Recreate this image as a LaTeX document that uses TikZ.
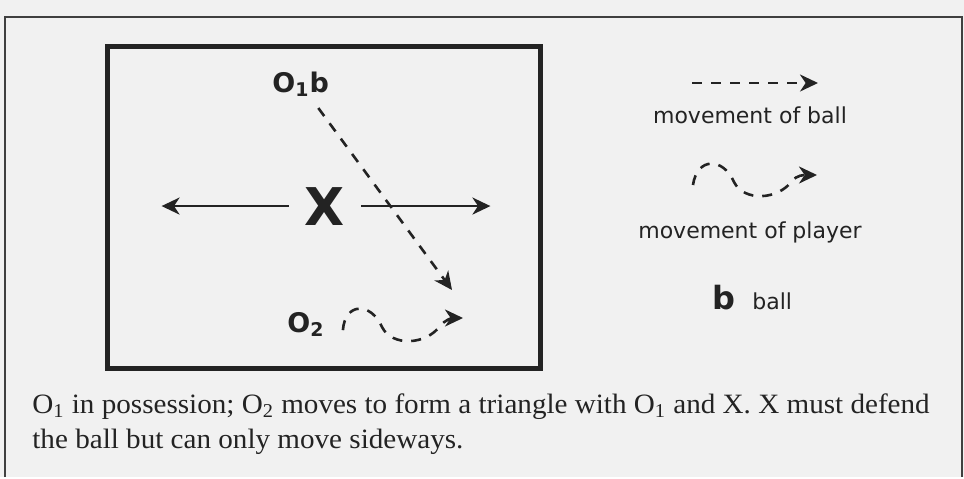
\documentclass[tikz,border=0pt]{standalone}
\usepackage{fontspec}
\setmainfont{Liberation Serif}
\setsansfont{DejaVu Sans}
\newfontfamily\notefont[FakeStretch=1.04]{Liberation Serif}
\usetikzlibrary{arrows.meta}
\definecolor{paper}{RGB}{241,241,241}
\definecolor{ink}{RGB}{35,35,35}

\begin{document}
\begin{tikzpicture}[
  x=0.5pt,y=-0.5pt,
  color=ink,
  lbl/.style={font=\sffamily\bfseries\fontsize{13.5}{15}\selectfont,inner sep=0pt},
  key/.style={font=\sffamily\fontsize{11}{13}\selectfont,inner sep=0pt},
  note/.style={font=\notefont\fontsize{14}{17}\selectfont,inner sep=0pt},
  mv/.style={-{Stealth[length=9pt,width=8.5pt,inset=2.8pt]},line width=1.3pt},
  ballmv/.style={mv,dash pattern=on 5pt off 4.5pt},
  pitch/.style={line width=2.5pt},
]
\fill[paper] (0,0) rectangle (964,477);
\draw[line width=1.3pt,black!75] (5,477) -- (5,17) -- (962,17) -- (962,477);

% the grid
\draw[pitch] (107,46) rectangle (540,368);

\node[lbl,anchor=base west] (o1b) at (272,92) {O\textsubscript{1}b};
\node[lbl,font=\sffamily\bfseries\fontsize{26}{30}\selectfont,
      inner xsep=8pt,anchor=base] (x) at (325,225) {X};
\node[lbl,anchor=base west] (o2) at (287,332) {O\textsubscript{2}};

\coordinate (pass) at (452,290);
\coordinate (run) at (463,318);
\path (x.west) ++(-127,0) coordinate (xl);
\path (x.east) ++(129,0) coordinate (xr);

\draw[ballmv,shorten <=7pt] (o1b) -- (pass);
\draw[mv] (x.west) -- (xl);
\draw[mv] (x.east) -- (xr);
\draw[ballmv] ([xshift=9pt,yshift=-3pt]o2.east)
      .. controls (345,302) and (371,302) .. (382,327)
      .. controls (392,347) and (426,345) .. (440,326)
      .. controls (445,320) and (452,318) .. (run);

% key
\coordinate (kb0) at (692,83);
\coordinate (kb1) at (818,83);
\draw[ballmv] (kb0) -- (kb1);
\node[key,anchor=base] (kball) at (750,123) {movement of ball};

\coordinate (kp0) at (693,185);
\coordinate (kp1) at (817,175);
\draw[ballmv] (kp0)
      .. controls (697,157) and (723,157) .. (734,182)
      .. controls (744,202) and (778,200) .. (792,181)
      .. controls (797,175) and (804,175) .. (kp1);
\node[key,anchor=base] (kplayer) at (750,238) {movement of player};

\node[lbl,font=\sffamily\bfseries\fontsize{16}{18}\selectfont,
      anchor=base west] (kb) at (712,309) {b};
\node[key,anchor=base west] (kbtxt) at (752,309) {ball};

% caption
\node[note,anchor=base west] (cap1) at (32,413) {O\textsubscript{1} in possession;
  O\textsubscript{2} moves to form a triangle with O\textsubscript{1} and X. X must defend};
\node[note,anchor=base west] (cap2) at (32,448) {the ball but can only move sideways.};
\end{tikzpicture}
\end{document}
